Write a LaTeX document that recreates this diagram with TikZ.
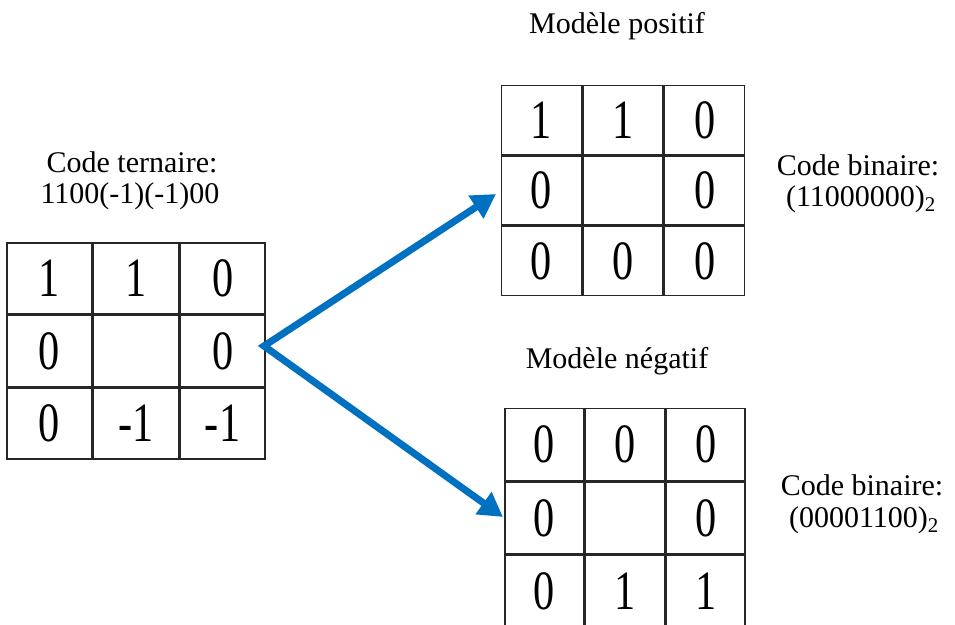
\documentclass[tikz,border=0pt]{standalone}
\usepackage{fontspec}
\usepackage{graphicx}
\setmainfont{Liberation Serif}
\usetikzlibrary{arrows.meta,matrix}
\definecolor{arrowblue}{RGB}{0,112,192}
\newcommand\dg[1]{\scalebox{0.9}[1.18]{#1}}
\tikzset{
  lbl/.style={font=\fontsize{30}{33}\selectfont, anchor=base, inner sep=0pt},
  cell/.style={draw=black!85, line width=1.6pt, outer sep=0pt, inner sep=0pt,
    font=\fontsize{47}{47}\selectfont, anchor=center},
  grid/.style={matrix of nodes, nodes in empty cells, column sep=0pt, row sep=0pt,
    inner sep=0pt, outer sep=0pt},
  bluearrow/.style={draw=arrowblue, line width=7pt, line join=miter,
    {Triangle[length=24pt,width=26pt]}-{Triangle[length=24pt,width=26pt]}}
}
\begin{document}
\begin{tikzpicture}[x=1pt,y=-1pt]
\useasboundingbox (0,0) rectangle (955,624);
\clip (0,0) rectangle (955,624);

% titles and labels
\node[lbl] (tpos) at (617,33) {Modèle positif};
\node[lbl] (tneg) at (617,368) {Modèle négatif};
\node[lbl] (tern1) at (132,172) {Code ternaire:};
\node[lbl] (tern2) at (130,203) {1100(-1)(-1)00};
\node[lbl] (bin1a) at (858,175) {Code binaire:};
\node[lbl] (bin1b) at (861,206) {(11000000)\textsubscript{2}};
\node[lbl] (bin2a) at (862,495) {Code binaire:};
\node[lbl] (bin2b) at (864,527) {(00001100)\textsubscript{2}};

% left grid
\matrix (L) [grid, nodes={cell, minimum width=85pt, minimum height=71pt}] at (136,351) {
  \dg{1} & \dg{1} & \dg{0} \\
  \dg{0} &        & \dg{0} \\
  \dg{0} & \dg{-1} & \dg{-1} \\
};

% positive grid
\matrix (P) [grid, nodes={cell, minimum width=80pt, minimum height=69pt}] at (623,190.5) {
  \dg{1} & \dg{1} & \dg{0} \\
  \dg{0} &        & \dg{0} \\
  \dg{0} & \dg{0} & \dg{0} \\
};

% negative grid
\matrix (N) [grid, nodes={cell, minimum width=79pt, minimum height=72pt}] at (625,518) {
  \dg{0} & \dg{0} & \dg{0} \\
  \dg{0} &        & \dg{0} \\
  \dg{0} & \dg{1} & \dg{1} \\
};

% arrows
\coordinate (O) at (264,346);
\coordinate (PT) at (496,194);
\coordinate (NT) at (503,517);
\draw[bluearrow] (PT) -- (O) -- (NT);
\end{tikzpicture}
\end{document}
